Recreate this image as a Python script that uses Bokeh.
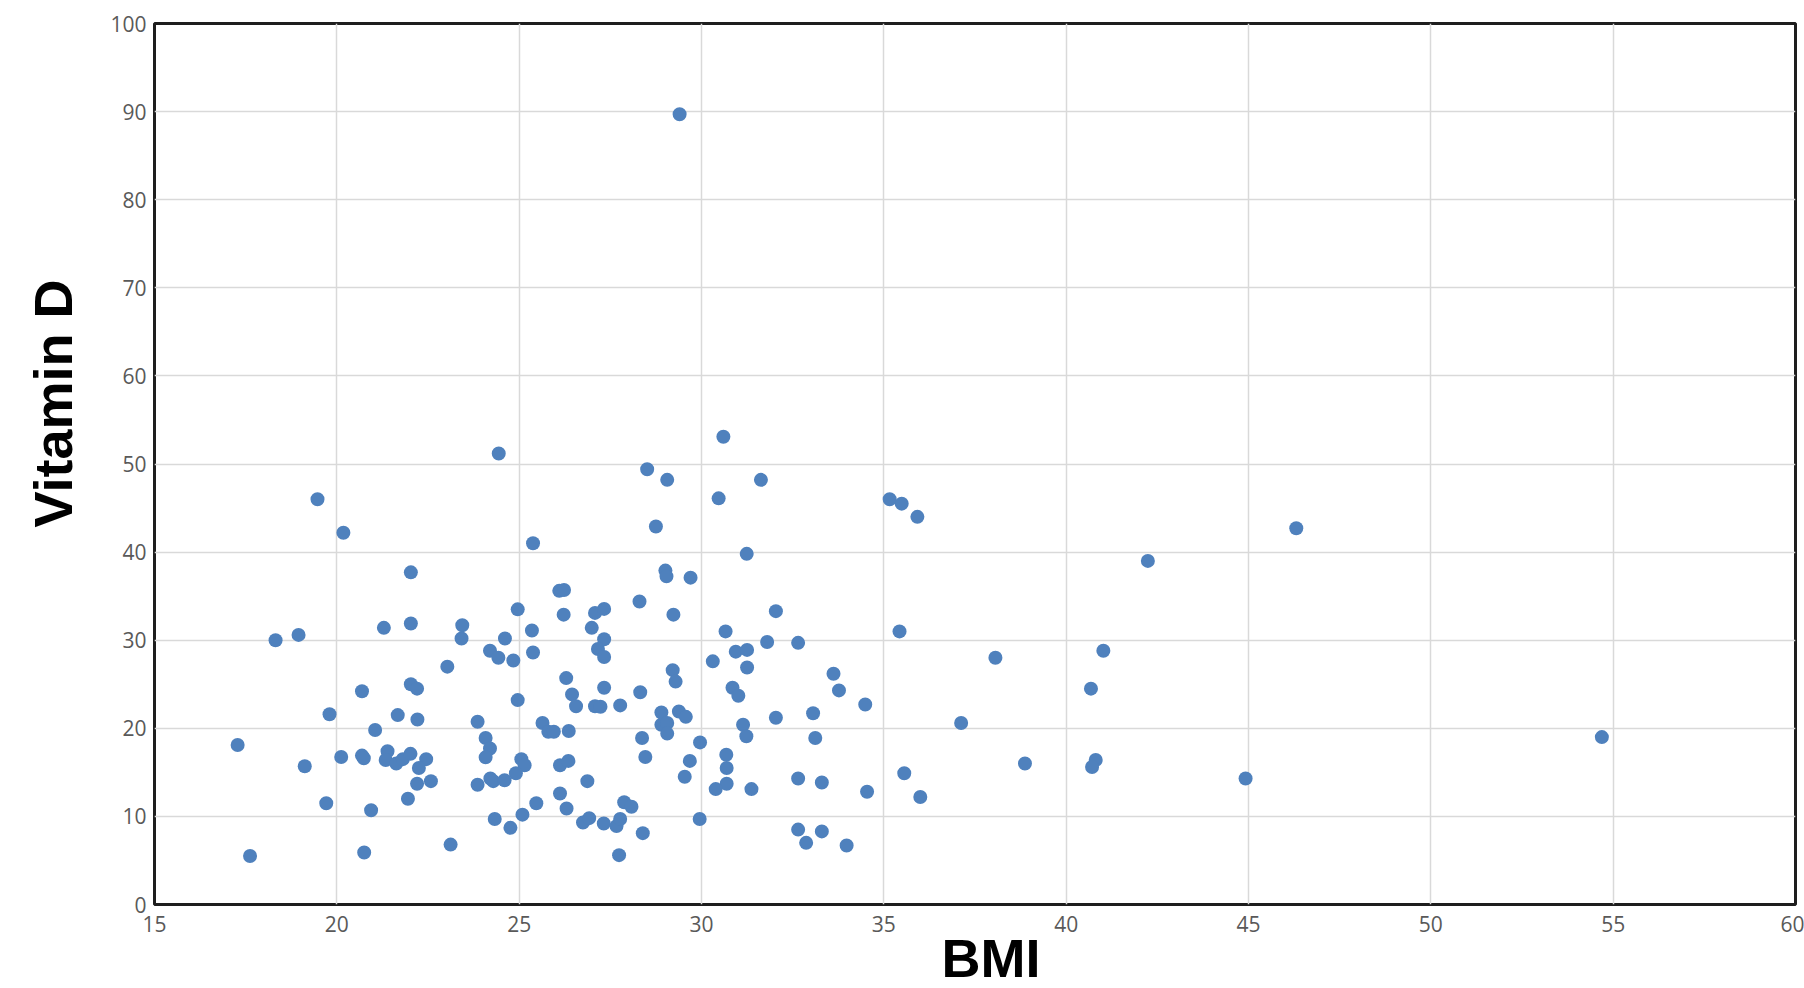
from bokeh.plotting import figure
from bokeh.models import Range1d, FixedTicker, Title, ColumnDataSource
from bokeh.embed import file_html
from bokeh.resources import INLINE

bmi = [
    24.44, 19.47, 20.18, 25.38, 22.03, 26.10, 26.23, 24.96, 26.22, 21.29, 22.03, 23.44, 23.42, 24.61, 25.35, 26.99,
    18.32, 18.95, 24.20, 24.43, 24.84, 25.38, 23.03, 22.03, 22.20, 20.69, 26.29, 26.45, 26.56, 24.96, 19.80, 21.67,
    22.21, 21.05, 23.86, 25.64, 25.80, 25.95, 26.36, 17.28, 19.12, 20.12, 20.69, 20.74, 21.39, 21.34, 21.63, 21.81,
    22.02, 22.45, 22.25, 22.58, 22.20, 21.95, 19.71, 20.94, 17.62, 20.75, 23.12, 24.08, 24.20, 24.08, 25.06, 25.15,
    24.91, 24.21, 24.29, 24.60, 23.86, 26.12, 26.35, 25.47, 26.12, 26.30, 24.33, 24.76, 25.09,
    30.60, 28.51, 29.06, 31.63, 30.47, 35.16, 35.49, 35.92, 28.75, 31.24, 29.01, 29.04, 29.70, 28.30, 27.08, 27.33,
    29.23, 32.04, 27.33, 27.16, 27.33, 30.66, 35.43, 31.80, 32.65, 30.94, 31.25, 30.31, 31.25, 38.06, 29.21, 29.29,
    27.33, 28.32, 27.08, 27.23, 27.77, 30.85, 31.01, 33.62, 33.77, 34.49, 28.90, 29.38, 29.57, 28.90, 29.06, 29.06,
    28.37, 28.46, 29.96, 31.14, 31.23, 32.04, 33.06, 33.12, 37.12, 26.87, 29.68, 29.54, 30.68, 30.69, 30.69, 30.39,
    31.37, 32.65, 33.30, 34.54, 35.56, 36.00, 26.75, 26.92, 27.32, 27.67, 27.77, 27.88, 28.08, 28.39, 27.74, 29.95,
    32.65, 32.87, 33.30, 33.98,
    46.31, 42.24, 41.02, 40.68, 38.87, 40.81, 40.71, 44.92, 29.40, 54.69,
]
vitamin_d = [
    51.2, 46.0, 42.2, 41.0, 37.7, 35.6, 35.7, 33.5, 32.9, 31.4, 31.9, 31.7, 30.2, 30.2, 31.1, 31.4,
    30.0, 30.6, 28.8, 28.0, 27.7, 28.6, 27.0, 25.0, 24.5, 24.2, 25.7, 23.85, 22.5, 23.2, 21.6, 21.5,
    21.0, 19.8, 20.75, 20.6, 19.6, 19.6, 19.7, 18.1, 15.7, 16.75, 16.9, 16.6, 17.4, 16.4, 16.0, 16.5,
    17.1, 16.5, 15.5, 14.0, 13.7, 12.0, 11.5, 10.7, 5.5, 5.9, 6.8, 18.9, 17.7, 16.7, 16.5, 15.8,
    14.9, 14.3, 14.0, 14.1, 13.6, 15.8, 16.3, 11.5, 12.6, 10.9, 9.7, 8.7, 10.2,
    53.1, 49.4, 48.2, 48.2, 46.1, 46.0, 45.5, 44.0, 42.9, 39.8, 37.9, 37.25, 37.1, 34.4, 33.1, 33.55,
    32.9, 33.3, 30.1, 29.0, 28.1, 31.0, 31.0, 29.8, 29.7, 28.7, 28.9, 27.6, 26.9, 28.0, 26.6, 25.3,
    24.6, 24.1, 22.5, 22.45, 22.6, 24.6, 23.7, 26.2, 24.3, 22.7, 21.8, 21.9, 21.3, 20.4, 20.6, 19.4,
    18.9, 16.75, 18.4, 20.4, 19.1, 21.2, 21.7, 18.9, 20.6, 14.0, 16.3, 14.5, 17.0, 15.5, 13.7, 13.1,
    13.1, 14.3, 13.85, 12.8, 14.9, 12.2, 9.3, 9.8, 9.2, 8.9, 9.7, 11.6, 11.1, 8.1, 5.6, 9.7,
    8.5, 7.0, 8.3, 6.7,
    42.7, 39.0, 28.8, 24.5, 16.0, 16.4, 15.6, 14.3, 89.7, 19.0,
]
x_ticks = [15, 20, 25, 30, 35, 40, 45, 50, 55, 60]
y_ticks = [0, 10, 20, 30, 40, 50, 60, 70, 80, 90, 100]
x_title = "BMI"
y_title = "Vitamin D"

src = ColumnDataSource(dict(x=bmi, y=vitamin_d))

p = figure(width=1804, height=988, output_backend="svg", toolbar_location=None,
           x_range=Range1d(15, 60), y_range=Range1d(0, 100),
           min_border_left=154, min_border_right=9, min_border_top=23, min_border_bottom=84)
p.background_fill_color = "white"
p.border_fill_color = "white"
p.outline_line_color = "#1e1e1e"
p.outline_line_width = 3

p.scatter("x", "y", source=src, size=14, fill_color="#4f81bd", line_color=None)

for ax in (p.xaxis, p.yaxis):
    ax.axis_line_color = None
    ax.major_tick_line_color = None
    ax.minor_tick_line_color = None
    ax.major_tick_out = 0
    ax.major_tick_in = 0
    ax.minor_tick_out = 0
    ax.minor_tick_in = 0
    ax.major_label_text_font = "Open Sans"
    ax.major_label_text_font_size = "21px"
    ax.major_label_text_color = "#595959"
p.xaxis.ticker = FixedTicker(ticks=x_ticks)
p.yaxis.ticker = FixedTicker(ticks=y_ticks)
p.xaxis.major_label_standoff = 11
p.yaxis.major_label_standoff = 8

p.xgrid.ticker = FixedTicker(ticks=x_ticks)
p.ygrid.ticker = FixedTicker(ticks=y_ticks)
for g in (p.xgrid, p.ygrid):
    g.grid_line_color = "#d9d9d9"
    g.grid_line_width = 1.5

p.add_layout(Title(text=x_title, align="left", offset=787, standoff=-17,
                   text_font="Liberation Sans", text_font_style="bold", text_font_size="54px",
                   text_color="black"), "below")
p.add_layout(Title(text=y_title, align="left", offset=377, standoff=45, vertical_align="top",
                   text_font="Liberation Sans", text_font_style="bold", text_font_size="54px",
                   text_color="black"), "left")

open("out.html", "w").write(file_html(p, INLINE))
